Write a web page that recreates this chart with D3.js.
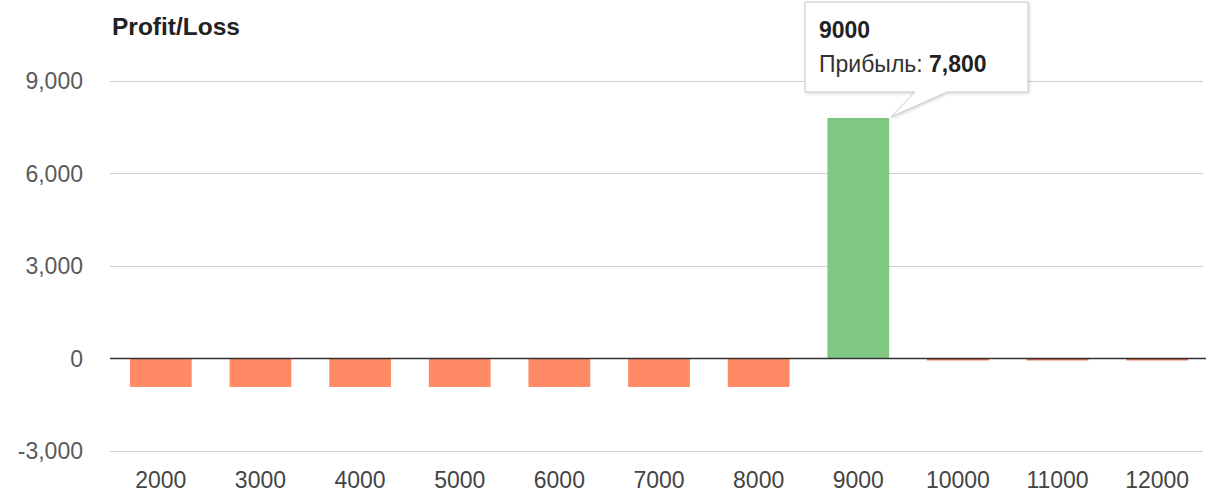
<!DOCTYPE html>
<html><head><meta charset="utf-8">
<script src="https://cdn.jsdelivr.net/npm/d3@7"></script>
<style>html,body{margin:0;padding:0;background:#fff;}svg{display:block;font-family:"Liberation Sans",Arial,sans-serif;}</style>
</head><body>
<script>
const categories = ["2000","3000","4000","5000","6000","7000","8000","9000","10000","11000","12000"];
const values = [-930,-930,-930,-930,-930,-930,-930,7800,-70,-70,-70];
const yTicks = [-3000,0,3000,6000,9000];
const title = "Profit/Loss";
const tooltipTitle = "9000";
const tooltipLabel = "Прибыль: ";
const tooltipValue = "7,800";

const W = 1216, H = 496;
const svg = d3.select("body").append("svg").attr("width", W).attr("height", H);

const x = d3.scaleBand().domain(categories).range([111, 1207]).paddingInner(0.38).paddingOuter(0.19);
const y = d3.scaleLinear().domain([-3000, 9000]).range([450.7, 81]);

// gridlines
svg.append("g").selectAll("line").data(yTicks.filter(d => d !== 0)).join("line")
  .attr("x1", 110).attr("x2", 1203)
  .attr("y1", d => Math.round(y(d)) + 0.5).attr("y2", d => Math.round(y(d)) + 0.5)
  .attr("stroke", "#cfcfcf").attr("stroke-width", 1);

// y labels
const fmt = d => d3.format(",")(d).replace("\u2212", "-");
svg.append("g").selectAll("text").data(yTicks).join("text")
  .attr("x", 83).attr("y", d => y(d)).attr("dy", "0.36em")
  .attr("text-anchor", "end").attr("font-size", 23).attr("fill", "#5a5a5a")
  .text(d => fmt(d));

// bars
svg.append("g").selectAll("rect").data(categories).join("rect")
  .attr("x", d => x(d)).attr("width", x.bandwidth())
  .attr("y", (d, i) => y(Math.max(0, values[i])))
  .attr("height", (d, i) => Math.abs(y(values[i]) - y(0)))
  .attr("fill", (d, i) => values[i] >= 0 ? "#81c784" : (values[i] > -200 ? "#e5674a" : "#ff8a65"));

// zero line
svg.append("line").attr("x1", 110).attr("x2", 1206)
  .attr("y1", Math.round(y(0)) + 0.5).attr("y2", Math.round(y(0)) + 0.5)
  .attr("stroke", "#333").attr("stroke-width", 1.5);

// x labels
svg.append("g").selectAll("text").data(categories).join("text")
  .attr("x", d => x(d) + x.bandwidth() / 2).attr("y", 488)
  .attr("text-anchor", "middle").attr("font-size", 23).attr("fill", "#444")
  .text(d => d);

// title
svg.append("text").attr("x", 112).attr("y", 35).attr("font-size", 24.5)
  .attr("font-weight", "bold").attr("fill", "#222").text(title);

// tooltip
const ti = categories.indexOf(tooltipTitle);
const tipX = x(categories[ti]) + x.bandwidth(), tipY = y(values[ti]);
const bx = 805, by = 2, bw = 223, bh = 90;
const tg = svg.append("g");
const defs = svg.append("defs");
const f = defs.append("filter").attr("id", "sh").attr("x", "-10%").attr("y", "-10%").attr("width", "120%").attr("height", "130%");
f.append("feDropShadow").attr("dx", 1).attr("dy", 1).attr("stdDeviation", 1.5).attr("flood-color", "#000").attr("flood-opacity", 0.18);
const path = `M${bx},${by} H${bx+bw} V${by+bh} H${947} L${tipX+2},${tipY-1} L${915},${by+bh} H${bx} Z`;
tg.append("path").attr("d", path).attr("fill", "#fff").attr("stroke", "#c8c8c8").attr("stroke-width", 1).attr("filter", "url(#sh)");
tg.append("text").attr("x", 819).attr("y", 38).attr("font-size", 23).attr("font-weight", "bold").attr("fill", "#222").text(tooltipTitle);
const t2 = tg.append("text").attr("x", 819).attr("y", 72).attr("font-size", 23).attr("fill", "#333");
t2.append("tspan").text(tooltipLabel);
t2.append("tspan").attr("font-weight", "bold").attr("fill", "#222").text(tooltipValue);
</script>
</body></html>
